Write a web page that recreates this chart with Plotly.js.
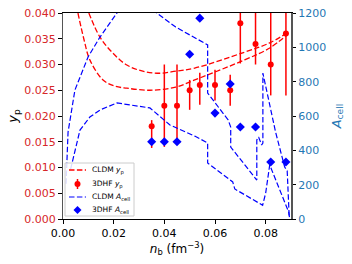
<!DOCTYPE html>
<html><head><meta charset="utf-8">
<script src="https://cdn.plot.ly/plotly-3.0.1.min.js"></script>
<style>html,body{margin:0;padding:0;background:#fff}#c{width:352px;height:264px}</style>
</head><body><div id="c"></div>
<script>
// CLDM y_p curves (two parameter sets)
const cldmYpX1 = [0.0059, 0.0083, 0.0106, 0.0158, 0.0205, 0.0252, 0.0343, 0.0445, 0.052, 0.0717, 0.0816, 0.0883];
const cldmYp1  = [0.040, 0.0348, 0.0309, 0.0270, 0.0258, 0.0254, 0.0250, 0.0256, 0.0270, 0.0309, 0.0332, 0.0357];
const cldmYpX2 = [0.0102, 0.0146, 0.0197, 0.0252, 0.0315, 0.0382, 0.0445, 0.052, 0.0717, 0.0816, 0.0883];
const cldmYp2  = [0.040, 0.0353, 0.0322, 0.0299, 0.0287, 0.0283, 0.0287, 0.0293, 0.0324, 0.0342, 0.0361];
// 3DHF points
const hfX      = [0.035, 0.040, 0.045, 0.050, 0.054, 0.060, 0.066, 0.070, 0.076, 0.082, 0.088];
const hfYp     = [0.018, 0.022, 0.022, 0.025, 0.026, 0.026, 0.025, 0.038, 0.034, 0.030, 0.036];
const hfYpErrPlus  = [0.0012, 0.008, 0.008, 0.002, 0.0024, 0.003, 0.003, 0.008, 0.008, 0.012, 0.008];
const hfYpErrMinus = [0.0042, 0.008, 0.0076, 0.0038, 0.0038, 0.003, 0.003, 0.0078, 0.004, 0.006, 0.012];
const hfAcell  = [450, 450, 450, 960, 1170, 617, 786, 536, 536, 332, 332];
// CLDM A_cell curves
const cldmAX1 = [0.0012, 0.002, 0.0047, 0.0099, 0.0146, 0.0213, 0.029, 0.037, 0.0445, 0.052, 0.0571, 0.0571, 0.0652, 0.0662, 0.0662, 0.0765, 0.0765, 0.0772, 0.0784, 0.0789, 0.0789, 0.0839, 0.0875, 0.0885, 0.0893];
const cldmA1  = [205, 507, 751, 944, 1060, 1200, 1330, 1200, 1118, 1054, 1014, 734, 577, 536, 419, 227, 460, 478, 431, 442, 850, 507, 303, 280, 10];
const cldmAX2 = [0.003, 0.0035, 0.0067, 0.0106, 0.0146, 0.0213, 0.0276, 0.0343, 0.0422, 0.052, 0.0571, 0.0571, 0.067, 0.0678, 0.0788, 0.080, 0.0816, 0.0891, 0.0895];
const cldmA2  = [290, 320, 518, 594, 635, 676, 664, 647, 548, 483, 443, 326, 216, 175, 80, 151, 315, 40, 0];
const yTicks = [0, 0.005, 0.010, 0.015, 0.020, 0.025, 0.030, 0.035, 0.040];
const aTicks = [0, 200, 400, 600, 800, 1000, 1200];
const xTicks = [0, 0.02, 0.04, 0.06, 0.08];
const legendLabels = ['CLDM <i>y</i><sub>p</sub>', '3DHF <i>y</i><sub>p</sub>', 'CLDM <i>A</i><sub>cell</sub>', '3DHF <i>A</i><sub>cell</sub>'];

const RED = '#ff0000', BLUE = '#0000ff';
const dash = '5.5px,2.4px';
const traces = [
  {x: cldmYpX1, y: cldmYp1, mode: 'lines', name: legendLabels[0], line: {color: RED, width: 1.3, dash: dash, shape: 'spline'}},
  {x: cldmYpX2, y: cldmYp2, mode: 'lines', name: legendLabels[0], line: {color: RED, width: 1.3, dash: dash, shape: 'spline'}},
  {x: hfX, y: hfYp, mode: 'markers', name: legendLabels[1], marker: {color: RED, size: 6},
   error_y: {type: 'data', symmetric: false, array: hfYpErrPlus, arrayminus: hfYpErrMinus, color: RED, thickness: 1.5, width: 0}},
  {x: cldmAX1, y: cldmA1, yaxis: 'y2', mode: 'lines', name: legendLabels[2], line: {color: BLUE, width: 1.2, dash: dash}},
  {x: cldmAX2, y: cldmA2, yaxis: 'y2', mode: 'lines', name: legendLabels[2], line: {color: BLUE, width: 1.2, dash: dash}},
  {x: hfX, y: hfAcell, yaxis: 'y2', mode: 'markers', name: legendLabels[3], marker: {color: BLUE, size: 7, symbol: 'diamond'}}
];

// Compact legend (matplotlib-like spacing) drawn in paper coordinates
const plotL = 63, plotT = 13, plotW = 228, plotH = 206;
const px = v => (v - plotL) / plotW;
const py = v => (plotT + plotH - v) / plotH;
const rowsY = [170, 184, 197, 210];
const shapes = [
  {type: 'rect', xref: 'paper', yref: 'paper', x0: px(65), x1: px(134), y0: py(216), y1: py(163),
   line: {color: '#cccccc', width: 1}, fillcolor: 'rgba(255,255,255,0.85)', layer: 'above'},
  {type: 'line', xref: 'paper', yref: 'paper', x0: px(69), x1: px(86), y0: py(rowsY[0]), y1: py(rowsY[0]), line: {color: RED, width: 1.3, dash: dash}, layer: 'above'},
  {type: 'line', xref: 'paper', yref: 'paper', x0: px(77.5), x1: px(77.5), y0: py(rowsY[1] + 5), y1: py(rowsY[1] - 5), line: {color: RED, width: 1.5}, layer: 'above'},
  {type: 'circle', xref: 'paper', yref: 'paper', xsizemode: 'pixel', ysizemode: 'pixel', xanchor: px(77.5), yanchor: py(rowsY[1]),
   x0: -3, x1: 3, y0: -3, y1: 3, fillcolor: RED, line: {width: 0}, layer: 'above'},
  {type: 'line', xref: 'paper', yref: 'paper', x0: px(69), x1: px(86), y0: py(rowsY[2]), y1: py(rowsY[2]), line: {color: BLUE, width: 1.2, dash: dash}, layer: 'above'},
  {type: 'path', xref: 'paper', yref: 'paper', xsizemode: 'pixel', ysizemode: 'pixel', xanchor: px(77.5), yanchor: py(rowsY[3]),
   path: 'M 0 4 L 4 0 L 0 -4 L -4 0 Z', fillcolor: BLUE, line: {width: 0}, layer: 'above'}
];
const annotations = legendLabels.map((t, i) => ({
  xref: 'paper', yref: 'paper', x: px(90), y: py(rowsY[i]), xanchor: 'left', yanchor: 'middle', showarrow: false,
  text: t, font: {family: 'DejaVu Sans', size: 7.5, color: '#000'}
}));

const layout = {
  width: 352, height: 264,
  margin: {l: 63, r: 61, t: 13, b: 45},
  paper_bgcolor: '#fff', plot_bgcolor: '#fff',
  font: {family: 'DejaVu Sans', size: 11, color: '#000'},
  showlegend: false,
  shapes: shapes,
  annotations: annotations,
  xaxis: {range: [0, 0.09], tickvals: xTicks, ticktext: xTicks.map(v => v.toFixed(2)), ticks: 'outside', ticklen: 3.5, tickcolor: '#000',
          showline: true, linecolor: '#000', linewidth: 1, mirror: true, showgrid: false, zeroline: false,
          tickfont: {family: 'DejaVu Sans', size: 11, color: '#000'},
          title: {text: '<i>n</i><sub>b</sub> (fm<sup>−3</sup>)', font: {family: 'DejaVu Sans', size: 12, color: '#000'}, standoff: 5}},
  yaxis: {range: [0, 0.04], tickvals: yTicks, ticktext: yTicks.map(v => v.toFixed(3)), ticks: 'outside', ticklen: 3.5, tickcolor: '#000',
          showline: true, linecolor: '#555', linewidth: 1.5, showgrid: false, zeroline: false,
          tickfont: {family: 'DejaVu Sans', size: 11, color: '#d62728'},
          title: {text: '<i>y</i><sub>p</sub>', font: {family: 'DejaVu Sans', size: 13, color: '#000'}, standoff: 3}},
  yaxis2: {range: [0, 1200], tickvals: aTicks, ticktext: aTicks.map(String), overlaying: 'y', side: 'right', anchor: 'x',
           ticks: 'outside', ticklen: 3.5, tickcolor: '#000', showline: true, linecolor: '#555', linewidth: 1.5, showgrid: false, zeroline: false,
           tickfont: {family: 'DejaVu Sans', size: 11, color: '#1f77b4'},
           title: {text: '<i>A</i><sub>cell</sub>', font: {family: 'DejaVu Sans', size: 13, color: '#1f77b4'}, standoff: 6}}
};
Plotly.newPlot('c', traces, layout, {staticPlot: true, displayModeBar: false});
</script></body></html>
